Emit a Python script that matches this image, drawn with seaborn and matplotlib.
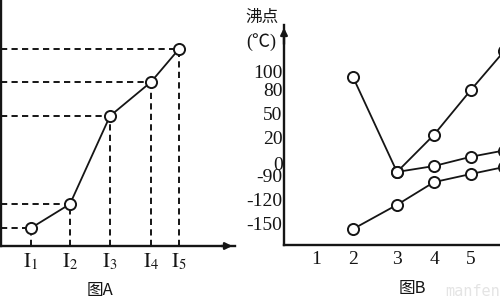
import numpy as np
import pandas as pd
import matplotlib
matplotlib.use("Agg")
import matplotlib.pyplot as plt
import seaborn as sns

sns.set_theme(style="white")
plt.rcParams['font.family'] = ['Liberation Serif', 'Noto Sans CJK SC', 'DejaVu Sans']
plt.rcParams['mathtext.fontset'] = 'stix'
plt.rcParams['axes.unicode_minus'] = False

# ---- data ----
# Panel A: successive ionisation energies (relative units)
a_labels = [r"$\mathrm{I}_1$", r"$\mathrm{I}_2$", r"$\mathrm{I}_3$", r"$\mathrm{I}_4$", r"$\mathrm{I}_5$"]
a_index = [1, 2, 3, 4, 5]
a_values = [18, 42, 130, 164, 197]

# Panel B: boiling points (°C) vs period
b_ticks = [100, 80, 50, 20, 0, -90, -120, -150]
b_xticks = [1, 2, 3, 4, 5, 6]
s1_x = [2, 3, 4, 5, 6]
s1_y = [94, -62, 24, 79, 122]
s2_x = [3, 4, 5, 6]
s2_y = [-62, -21, 5, 10]
s3_x = [2, 3, 4, 5, 6]
s3_y = [-156, -127, -98, -76, -28]

INK = "#151515"

fig = plt.figure(figsize=(5, 3), dpi=100)

# ---------- panel A ----------
axA = fig.add_axes([1/500, 54/300, 234/500, 246/300])
a_knots_i = [0, 1, 2, 3, 4, 5, 6]
a_knots_p = [0, 30, 69, 109, 150, 178, 234]
axA.set_xscale('function', functions=(lambda v: np.interp(v, a_knots_i, a_knots_p),
                                      lambda p: np.interp(p, a_knots_p, a_knots_i)))
axA.set_xlim(0, 6)
axA.set_ylim(0, 246)

axA.hlines(a_values, 0, a_index, colors=INK, linestyles=(0, (3.2, 2.2)), lw=1.4, zorder=1)
axA.vlines(a_index, 0, a_values, colors=INK, linestyles=(0, (3.2, 2.2)), lw=1.4, zorder=1)
sns.lineplot(x=a_index, y=a_values, ax=axA, color=INK, lw=1.3, marker='o', ms=8,
             markerfacecolor='white', markeredgecolor=INK, markeredgewidth=1.4, zorder=3)

for s in ['top', 'right']:
    axA.spines[s].set_visible(False)
for s in ['left', 'bottom']:
    axA.spines[s].set_color(INK)
    axA.spines[s].set_linewidth(1.7)
axA.set_yticks([])
axA.set_xticks(a_index)
axA.set_xticklabels(a_labels, fontsize=15, color=INK)
axA.tick_params(axis='x', length=0, pad=4)
axA.annotate('', xy=(1.0, 0), xycoords='axes fraction', xytext=(0.93, 0),
             arrowprops=dict(arrowstyle='-|>', color=INK, lw=1.7, mutation_scale=10))
fig.text(100/500, 1 - 290/300, "图A", ha='center', va='center', fontsize=12, color=INK,
         family=['Noto Sans CJK SC', 'Liberation Serif'])

# ---------- panel B ----------
axB = fig.add_axes([284/500, 55/300, 260/500, 220/300])
b_knots_v = [-175, -150, -120, -90, 0, 20, 50, 80, 100, 150]
b_knots_p = [0, 21, 46, 69, 82, 107, 131, 156, 173, 220]
axB.set_yscale('function', functions=(lambda v: np.interp(v, b_knots_v, b_knots_p),
                                      lambda p: np.interp(p, b_knots_p, b_knots_v)))
x_knots_i = [0, 1, 2, 3, 4, 5, 6, 7]
x_knots_p = [0, 32, 69, 113, 150, 187, 220, 260]
axB.set_xscale('function', functions=(lambda v: np.interp(v, x_knots_i, x_knots_p),
                                      lambda p: np.interp(p, x_knots_p, x_knots_i)))
axB.set_xlim(0, 7)
axB.set_ylim(-175, 150)

for xs, ys in [(s1_x, s1_y), (s2_x, s2_y), (s3_x, s3_y)]:
    sns.lineplot(x=xs, y=ys, ax=axB, color=INK, lw=1.3, marker='o', ms=8,
                 markerfacecolor='white', markeredgecolor=INK, markeredgewidth=1.4,
                 zorder=3, clip_on=False)

for s in ['top', 'right']:
    axB.spines[s].set_visible(False)
for s in ['left', 'bottom']:
    axB.spines[s].set_color(INK)
    axB.spines[s].set_linewidth(1.7)
axB.set_yticks(b_ticks)
axB.set_yticklabels([str(t) for t in b_ticks], fontsize=14, color=INK)
axB.set_xticks(b_xticks)
axB.set_xticklabels([str(t) for t in b_xticks], fontsize=14, color=INK)
axB.tick_params(axis='y', direction='in', length=6, width=1.1, pad=1, colors=INK)
axB.tick_params(axis='x', direction='in', length=6, width=1.1, pad=4, colors=INK)
axB.minorticks_off()
axB.annotate('', xy=(0, 1.0), xycoords='axes fraction', xytext=(0, 0.9),
             arrowprops=dict(arrowstyle='-|>', color=INK, lw=1.7, mutation_scale=10))

fig.text(262/500, 1 - 17/300, "沸点", ha='center', va='center', fontsize=12, color=INK,
         family=['Noto Sans CJK SC', 'Liberation Serif'])
fig.text(261/500, 1 - 42/300, "(℃)", ha='center', va='center', fontsize=13, color=INK,
         family=['Liberation Serif', 'Noto Sans CJK SC'])
fig.text(412/500, 1 - 288/300, "图B", ha='center', va='center', fontsize=12, color=INK,
         family=['Noto Sans CJK SC', 'Liberation Serif'])
fig.text(445/500, 1 - 291/300, "manfen5.com", ha='left', va='center', fontsize=11,
         color='#e4e4e4', family='DejaVu Sans Mono')

fig.savefig("out.png", dpi=100)
